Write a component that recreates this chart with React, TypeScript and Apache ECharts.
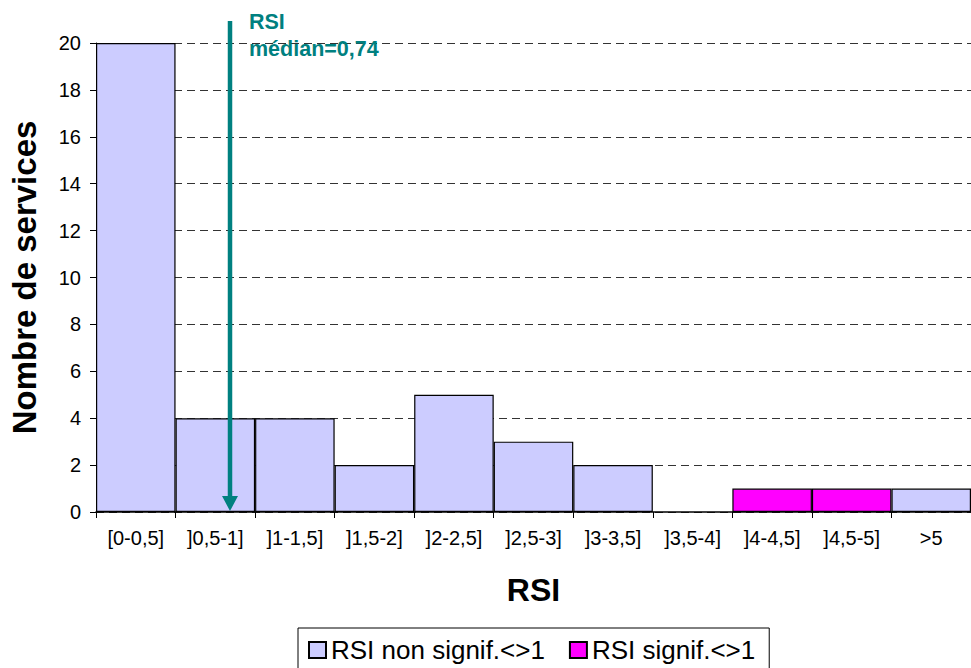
import React, { useEffect, useRef } from "react";
import * as echarts from "echarts";

const categories = ["[0-0,5]", "]0,5-1]", "]1-1,5]", "]1,5-2]", "]2-2,5]", "]2,5-3]", "]3-3,5]", "]3,5-4]", "]4-4,5]", "]4,5-5]", ">5"];
const nonSignif: (number | string)[] = [20, 4, 4, 2, 5, 3, 2, "-", "-", "-", 1];
const signif: (number | string)[] = ["-", "-", "-", "-", "-", "-", "-", "-", 1, 1, "-"];
const seriesNames = ["RSI non signif.<>1", "RSI signif.<>1"];
const medianCategoryIndex = 1;
const medianLabel = ["RSI", "médian=0,74"];
const yMin = 0;
const yMax = 20;
const yInterval = 2;

const FONT = "'Liberation Sans', Arial, sans-serif";
const TEAL = "#008080";

export default function App() {
  const ref = useRef<HTMLDivElement>(null);

  useEffect(() => {
    if (!ref.current) return;
    const chart = echarts.init(ref.current, undefined, { renderer: "svg" });
    const option: any = {
      animation: false,
      backgroundColor: "#ffffff",
      textStyle: { fontFamily: FONT },
      grid: { left: 96, top: 43, width: 880, height: 469, containLabel: false },
      legend: {
        left: 298,
        top: 628,
        orient: "horizontal",
        padding: [9, 14, 14, 10],
        borderColor: "#000",
        borderWidth: 1,
        itemGap: 24,
        itemWidth: 17,
        itemHeight: 16,
        icon: "rect",
        data: seriesNames,
        textStyle: { fontSize: 26, color: "#000", fontFamily: FONT },
      },
      xAxis: {
        type: "category",
        data: categories,
        name: "RSI",
        nameLocation: "middle",
        nameGap: 62,
        nameTextStyle: { fontSize: 32, fontWeight: "bold", color: "#000", fontFamily: FONT },
        axisLine: { show: true, lineStyle: { color: "#000", width: 1.5 } },
        axisTick: { show: true, length: 6, lineStyle: { color: "#000", width: 1 } },
        axisLabel: { fontSize: 20, color: "#000", margin: 16, interval: 0, fontFamily: FONT },
        splitLine: { show: false },
      },
      yAxis: {
        type: "value",
        min: yMin,
        max: yMax,
        interval: yInterval,
        name: "Nombre de services",
        nameLocation: "middle",
        nameGap: 55,
        nameTextStyle: { fontSize: 33, fontWeight: "bold", color: "#000", fontFamily: FONT },
        axisLine: { show: true, lineStyle: { color: "#000", width: 1 } },
        axisTick: { show: true, length: 6, lineStyle: { color: "#000", width: 1 } },
        axisLabel: { fontSize: 20, color: "#000", margin: 15, fontFamily: FONT },
        splitLine: { show: true, lineStyle: { color: "#333", width: 1, type: [8, 5] } },
      },
      series: [
        {
          name: seriesNames[0],
          type: "bar",
          stack: "all",
          data: nonSignif,
          barCategoryGap: "0%",
          itemStyle: { color: "#CCCCFF", borderColor: "#000", borderWidth: 1.2 },
          z: 3,
        },
        {
          name: seriesNames[1],
          type: "bar",
          stack: "all",
          data: signif,
          barCategoryGap: "0%",
          itemStyle: { color: "#FF00FF", borderColor: "#000", borderWidth: 1.2 },
          z: 3,
        },
      ],
    };
    chart.setOption(option);

    const cx = chart.convertToPixel({ xAxisIndex: 0 }, medianCategoryIndex) as number;
    const ax = Math.round(cx + 15);
    const yTop = (chart.convertToPixel({ yAxisIndex: 0 }, yMax) as number) - 22;
    const yBase = (chart.convertToPixel({ yAxisIndex: 0 }, yMin) as number) - 1;
    chart.setOption({
      graphic: [
        {
          type: "line",
          shape: { x1: ax, y1: yTop, x2: ax, y2: yBase - 14 },
          style: { stroke: TEAL, lineWidth: 4.5 },
          z: 20,
        },
        {
          type: "polygon",
          shape: { points: [[ax - 8, yBase - 15], [ax + 8, yBase - 15], [ax, yBase]] },
          style: { fill: TEAL },
          z: 20,
        },
        {
          type: "text",
          x: ax + 19,
          y: yTop - 13,
          style: {
            text: medianLabel.join("\n"),
            fill: TEAL,
            font: `bold 21.5px ${FONT}`,
            lineHeight: 27,
            textAlign: "left",
            textVerticalAlign: "top",
          },
          z: 21,
        },
      ],
    });

    return () => chart.dispose();
  }, []);

  return (
    <div
      ref={ref}
      style={{ position: "fixed", left: 0, top: 0, width: 971, height: 668, background: "#fff" }}
    />
  );
}
